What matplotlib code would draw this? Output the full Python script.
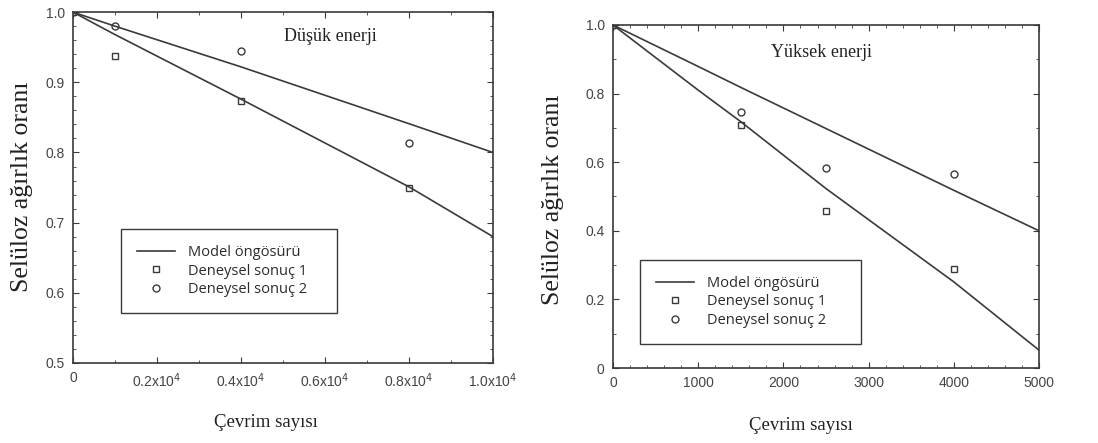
import matplotlib.pyplot as plt
from matplotlib.ticker import MultipleLocator, FixedLocator, FixedFormatter

# --- DATA ---
# Düşük enerji (left)
low_model_x = [0, 1000, 4000, 8000, 10000]
low_model_a = [1.0, 0.98, 0.922, 0.841, 0.80]
low_model_b = [1.0, 0.968, 0.876, 0.751, 0.68]
low_exp_x = [0, 1000, 4000, 8000]
low_exp1 = [1.0, 0.938, 0.874, 0.749]
low_exp2 = [1.0, 0.980, 0.944, 0.813]
low_xticks = [0, 2000, 4000, 6000, 8000, 10000]
low_xlabels = ["0", r"0.2x10$^4$", r"0.4x10$^4$", r"0.6x10$^4$", r"0.8x10$^4$", r"1.0x10$^4$"]

# Yüksek enerji (right)
high_model_x = [0, 1000, 1500, 2500, 4000, 5000]
high_model_a = [1.0, 0.879, 0.818, 0.698, 0.518, 0.40]
high_model_b = [1.0, 0.81, 0.718, 0.523, 0.251, 0.052]
high_exp_x = [0, 1500, 2500, 4000]
high_exp1 = [1.0, 0.708, 0.458, 0.290]
high_exp2 = [1.0, 0.747, 0.584, 0.565]

ylab = "Selüloz ağırlık oranı"
xlab = "Çevrim sayısı"
leg_labels = ["Model öngösürü", "Deneysel sonuç 1", "Deneysel sonuç 2"]

ink = "#3a3a3a"
serif = "Liberation Serif"
sans = "Liberation Sans"

fig = plt.figure(figsize=(10.98, 4.43), dpi=100)
ax1 = fig.add_axes([0.0665, 0.1806, 0.3825, 0.792])
ax2 = fig.add_axes([0.5583, 0.1693, 0.388, 0.7743])


def style(ax):
    for s in ax.spines.values():
        s.set_color(ink)
        s.set_linewidth(1.2)
    ax.tick_params(which="both", direction="in", top=True, right=True,
                   colors=ink, labelsize=10, pad=6)
    ax.tick_params(which="major", length=4)
    ax.tick_params(which="minor", length=2)
    for t in ax.get_xticklabels() + ax.get_yticklabels():
        t.set_family(sans)
        t.set_color("#444444")


def add_legend(ax, h, anchor):
    leg = ax.legend(h, leg_labels, loc="center", bbox_to_anchor=anchor,
                    mode="expand", borderaxespad=0, frameon=True, fancybox=False,
                    edgecolor=ink, framealpha=1, borderpad=1.1,
                    labelspacing=0.25, handlelength=2.6, handletextpad=0.9,
                    prop={"family": "Open Sans", "size": 10.5})
    leg.get_frame().set_linewidth(1.0)
    for t in leg.get_texts():
        t.set_color("#2b2b2b")


def draw(ax, mx, ma, mb, ex, e1, e2):
    l, = ax.plot(mx, ma, color=ink, lw=1.2)
    ax.plot(mx, mb, color=ink, lw=1.2)
    sq, = ax.plot(ex, e1, ls="none", marker="s", ms=5, mfc="none", mec=ink, mew=1)
    ci, = ax.plot(ex, e2, ls="none", marker="o", ms=5, mfc="none", mec=ink, mew=1)
    return [l, sq, ci]


# --- LEFT ---
h1 = draw(ax1, low_model_x, low_model_a, low_model_b, low_exp_x, low_exp1, low_exp2)
ax1.set_xlim(0, 10000)
ax1.set_ylim(0.5, 1.0)
ax1.xaxis.set_major_locator(FixedLocator(low_xticks))
ax1.xaxis.set_major_formatter(FixedFormatter(low_xlabels))
ax1.xaxis.set_minor_locator(MultipleLocator(1000))
ax1.yaxis.set_major_locator(MultipleLocator(0.1))
ax1.yaxis.set_minor_locator(MultipleLocator(0.02))
ax1.yaxis.set_major_formatter(plt.FuncFormatter(lambda v, p: f"{v:.1f}"))
style(ax1)
ax1.text(0.612, 0.93, "Düşük enerji", transform=ax1.transAxes, ha="center",
         va="center", family=serif, fontsize=13, color="#222222")
add_legend(ax1, h1, (0.114, 0.134, 0.514, 0.256))

# --- RIGHT ---
h2 = draw(ax2, high_model_x, high_model_a, high_model_b, high_exp_x, high_exp1, high_exp2)
ax2.set_xlim(0, 5000)
ax2.set_ylim(0, 1.0)
ax2.xaxis.set_major_locator(MultipleLocator(1000))
ax2.xaxis.set_minor_locator(MultipleLocator(200))
ax2.yaxis.set_major_locator(MultipleLocator(0.2))
ax2.yaxis.set_minor_locator(MultipleLocator(0.1))
ax2.yaxis.set_major_formatter(plt.FuncFormatter(lambda v, p: "0" if v == 0 else f"{v:.1f}"))
style(ax2)
ax2.text(0.489, 0.92, "Yüksek enerji", transform=ax2.transAxes, ha="center",
         va="center", family=serif, fontsize=13, color="#222222")
add_legend(ax2, h2, (0.063, 0.061, 0.519, 0.263))

# axis titles
fig.text(0.020, 0.578, ylab, rotation=90, ha="center", va="center",
         family=serif, fontsize=18.5, color="#222222")
fig.text(0.504, 0.55, ylab, rotation=90, ha="center", va="center",
         family=serif, fontsize=18.5, color="#222222")
fig.text(0.242, 0.047, xlab, ha="center", va="center",
         family=serif, fontsize=13.5, color="#222222")
fig.text(0.729, 0.040, xlab, ha="center", va="center",
         family=serif, fontsize=13.5, color="#222222")

fig.savefig("out.png", dpi=100)
